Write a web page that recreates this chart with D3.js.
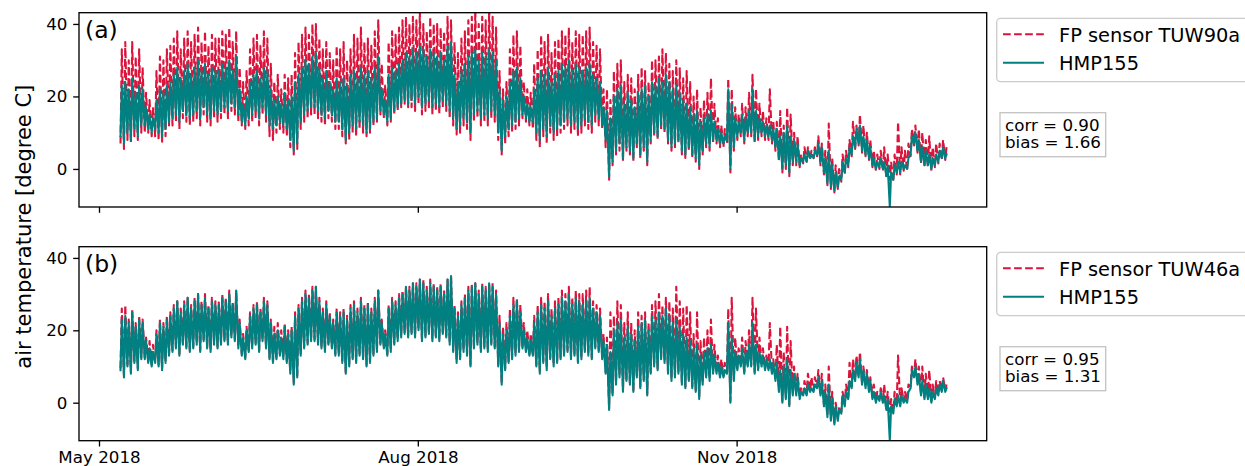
<!DOCTYPE html>
<html><head><meta charset="utf-8">
<script src="https://cdn.jsdelivr.net/npm/d3@7"></script>
<style>body{margin:0;background:#fff;} svg{display:block;font-family:"DejaVu Sans",sans-serif;}</style>
</head><body><svg id="c" width="1245" height="466"></svg>
<script>
// ---- data: daily extremes (first day 2018-05-07) ----
const startDate = "2018-05-07";
const xTickDates = ["2018-05-01", "2018-08-01", "2018-11-01"];
const yTicks = [0, 20, 40];

const hmpMax = [
23,24,22,25,21,23,22, 17,15,14,19,22,21,23, 24,26,28,25,27,29,26, 28,30,27,29,26,28,27,
27,29,28,30,27,31,22, 18,20,24,26,27,25,28, 27,22,19,20,18,21,19, 20,24,26,28,30,29,31,
32,28,25,27,24,22,25, 24,25,23,26,27,25,28, 26,27,25,28,31,22,19, 26,28,27,29,30,32,31,
33,32,34,33,31,33,32, 31,32,30,34,35,26,24, 27,29,31,32,33,30,32, 31,33,32,30,22,19,20,
24,27,28,25,20,18,17, 22,25,27,26,28,24,26, 27,29,28,30,27,29,28, 27,28,29,26,25,24,17,
16,14,20,22,23,18,21, 19,17,21,22,23,20,24, 23,25,24,26,24,22,23, 21,19,18,17,15,16,13,
14,15,16,13,11,10,9, 22,18,14,13,15,14,16, 22,16,14,13,12,12,11, 11,9,10,12,9,8,7,
3,4,5,4,5,7,6, 3,5,1,-1,-2,2,3, 6,9,11,12,9,8,6, 3,2,3,2,1,-1,1,
2,2,1,3,9,10,8, 6,5,4,3,4,5,6, 4];
const hmpMin = [
9,7,10,8,11,9,12, 12,11,10,11,10,9,11, 13,14,15,13,16,15,14, 15,16,14,17,15,14,16,
15,16,17,16,18,17,15, 13,12,14,15,16,14,17, 15,12,11,12,13,12,11, 8,5,7,13,15,16,17,
17,16,15,14,16,15,13, 13,11,8,10,12,11,13, 12,10,11,13,14,16,15, 13,14,16,17,18,19,18,
19,18,20,17,18,19,17, 18,17,19,18,16,14,11, 12,14,13,10,15,16,14, 15,14,16,15,10,5,9,
11,12,13,14,15,14,13, 13,10,8,11,9,12,10, 11,12,13,14,12,13,11, 12,14,13,12,15,14,12,
8,-2,2,5,7,3,6, 5,3,7,4,6,2,8, 10,9,12,11,8,6,7, 8,5,4,6,4,3,1,
5,7,6,8,8,7,7, 8,0,6,9,10,8,10, 10,8,9,10,9,9,8, 6,3,0,1,-1,2,2,
1,2,2,3,3,4,2, -1,-4,-5,-6,-5,-3,-1, 1,4,6,7,5,4,3, 1,0,0.5,0,-2,-10.4,-3,
-1,-1,0,0,4,7,5, 2,1,1,0,1,2,3, 3];

const tuw90aMax = [
33,35,30,35,31,33,28, 21,19,17,27,31,30,33, 34,36,38,33,36,38,35, 37,39,35,38,34,37,36,
36,38,37,39,35,38,28, 24,27,33,36,37,34,38, 36,29,24,26,22,26,25, 26,32,35,37,39,37,40,
40,36,33,35,32,30,34, 33,35,30,33,37,36,39, 35,36,34,38,41,29,23, 35,38,37,39,41,42,40,
42,41,43.5,40,38,42,40, 40,39,38,42,41,35,32, 36,38,41,42,44,40,42, 41,44,42,39,27,22,24,
33,37,38,34,24,22,21, 29,33,37,35,37,32,35, 36,38,37,39,35,38,37, 37,38,39,35,34,33,22,
22,19,27,29,30,24,26, 25,22,26,28,27,24,30, 30,31,33,32,29,27,30, 28,25,27,24,20,22,17,
19,21,25,18,14,12,11, 25,22,17,15,18,17,21, 26,22,18,16,14,22,13, 13,16,12,17,15,10,9,
4,6,6,5,6,9,7, 5,12.5,3,1,0,4,5, 8,13,12,15,12,10,8, 5,4,5,6,4,2,4,
13,6,5,7,11,12,11, 10,8,9,6,7,7,8, 6];
const tuw90aMin = [
7,5.5,8,7,9,8,10, 10,10,9,9,8,7.5,9, 12,12,13,11,14,13,12, 13,14,12,15,13,12,14,
13,14,15,14,16,15,13, 12,11,12,13,14,12,15, 13,9,8,10,11,10,9, 6,4,5.5,11,13,14,15,
15,14,13,12,14,13,11, 11,9,7,8,10,9,11, 10,9,10,12,13,15,14, 12,13,15,16,17,18,17,
17,16,18,15,16,17,15, 16,15,17,16,14,12,9.5, 10,12,11,8,13,14,12, 13,12,14,13,8,4,7,
9,10,11,12,14,13,12, 11,8,6,9,7,10,8, 9,10,11,12,10,11,9, 10,12,11,10,13,12,11,
6,-3,1,4,5,2,5, 4,2,6,3,5,1,7, 9,8,11,10,7,5,6, 7,4,3,5,3,2,0,
4,6,5,7,7,6,6, 7,-1,5,8,9,7,9, 9,7,8,9,8,8,7, 5,2,-1,0,-2,1,1,
0.5,1.5,2,2.5,3,3.5,1, -1.5,-4.5,-5.5,-6.5,-5.5,-3.5,-1.5, 0.5,3.5,5.5,6.5,4.5,3.5,2.5, 0.5,-0.5,0,-0.5,-2.5,-3,-3.5,
-1.5,-1.5,-0.5,-0.5,3.5,6.5,4.5, 1.5,0.5,0.5,-0.5,0.5,1.5,2.5, 2.5];

const tuw46aMax = [
26,27,23,26,22,24,23, 18,17,16,20,23,22,24, 25,27,28,26,28,29,27, 29,30,28,30,27,29,28,
28,30,29,31,28,31,23, 19,21,25,27,28,26,29, 28,23,21,22,20,22,20, 21,25,27,29,31,30,32,
32,29,26,28,25,23,26, 25,26,24,27,28,26,29, 27,28,26,29,31,23,20, 27,29,28,30,31,32,32,
33,33,34,34,32,34,33, 32,33,31,34,35,27,25, 28,30,32,33,33,31,33, 32,33,33,31,24,21,22,
26,29,29,27,22,20,19, 24,27,29,28,30,26,28, 29,31,30,32,29,31,30, 30,31,32,28,27,26,19,
18,25,24,28,27,22,25, 22,20,25,24,25,22,27, 28,30,27,29,28,26,32, 28,26,27,25,19,25,17,
18,20,23,16,13,12,11, 26,29,18,15,18,17,20, 29,26,18,15,13,22,12, 16,21,14,21,17,10,8,
4,6,8,7,7,9,8, 5,10,3,0,-1,3,5, 11,12,13,14,10,9,7, 5,3,4,5,3,1,3,
13,4,3,5,10,12,10, 10,8,9,5,6,6,7, 5];
const tuw46aMin = [
9.5,7.5,10.5,8.5,11.5,9.5,12.5, 12.5,11.5,10.5,11.5,10.5,9.5,11.5, 13.5,14.5,15.5,13.5,16.5,15.5,14.5, 15.5,16.5,14.5,17.5,15.5,14.5,16.5,
15.5,16.5,17.5,16.5,18.5,17.5,15.5, 13.5,12.5,14.5,15.5,16.5,14.5,17.5, 15.5,12.5,11.5,12.5,13.5,12.5,11.5, 8.5,5.5,7.5,13.5,15.5,16.5,17.5,
17.5,16.5,15.5,14.5,16.5,15.5,13.5, 13.5,11.5,8.5,10.5,12.5,11.5,13.5, 12.5,10.5,11.5,13.5,14.5,16.5,15.5, 13.5,14.5,16.5,17.5,18.5,19.5,18.5,
19.5,18.5,20.5,17.5,18.5,19.5,17.5, 18.5,17.5,19.5,18.5,16.5,14.5,11.5, 12.5,14.5,13.5,10.5,15.5,16.5,14.5, 15.5,14.5,16.5,15.5,10.5,5.5,9.5,
11.5,12.5,13.5,14.5,15.5,14.5,13.5, 13.5,10.5,8.5,11.5,9.5,12.5,10.5, 11.5,12.5,13.5,14.5,12.5,13.5,11.5, 12.5,14.5,13.5,12.5,15.5,14.5,12.5,
8.5,-1.5,2.5,5.5,7.5,3.5,6.5, 5.5,3.5,7.5,4.5,6.5,2.5,8.5, 10.5,9.5,12.5,11.5,8.5,6.5,7.5, 8.5,5.5,4.5,6.5,4.5,3.5,1.5,
5.5,7.5,6.5,8.5,8.5,7.5,7.5, 8.5,0.5,6.5,9.5,10.5,8.5,10.5, 10.5,8.5,9.5,10.5,9.5,9.5,8.5, 6.5,3.5,0.5,1.5,-0.5,2.5,2.5,
1.5,2.5,2.5,3.5,3.5,4.5,2.5, -0.5,-3.5,-4.5,-5.5,-4.5,-2.5,-0.5, 1.5,4.5,6.5,7.5,5.5,4.5,3.5, 1.5,0.5,1,0.5,-1.5,-2.5,-2.5,
-0.5,-0.5,0.5,0.5,4.5,7.5,5.5, 2.5,1.5,1.5,0.5,1.5,2.5,3.5, 3.5];

const panelLabels = ["(a)", "(b)"];
const sensorNames = ["FP sensor TUW90a", "FP sensor TUW46a"];
const refName = "HMP155";
const corrValues = ["0.90", "0.95"];
const biasValues = ["1.66", "1.31"];
const yLabel = "air temperature [degree C]";

// ---- drawing ----
const RED = "#DC143C", TEAL = "#008080";
const svg = d3.select("#c");
const left = 79, right = 986.7;
const panelBoxes = [{top: 12.7, bottom: 207}, {top: 246.7, bottom: 440.7}];
const t0 = d3.utcParse("%Y-%m-%d")(startDate);
const HOUR = 3600e3, DAY = 86400e3;

const x = d3.scaleUtc()
  .domain([Date.UTC(2018, 3, 25, 5, 30), Date.UTC(2019, 0, 12, 4, 0)])
  .range([left, right]);

function series(maxArr, minArr) {
  const pts = [];
  maxArr.forEach((mx, i) => {
    pts.push([new Date(+t0 + i * DAY + 5 * HOUR), minArr[i]]);
    pts.push([new Date(+t0 + i * DAY + 14 * HOUR), mx]);
  });
  return pts;
}
const sensorData = [series(tuw90aMax, tuw90aMin), series(tuw46aMax, tuw46aMin)];
const refData = series(hmpMax, hmpMin);
const tickDates = xTickDates.map(d => d3.utcParse("%Y-%m-%d")(d));

panelBoxes.forEach((pb, k) => {
  const y = d3.scaleLinear().domain([-10.5, 43.1]).range([pb.bottom, pb.top]);
  const g = svg.append("g");
  const cid = "clip" + k;
  svg.append("clipPath").attr("id", cid).append("rect")
    .attr("x", left).attr("y", pb.top).attr("width", right - left).attr("height", pb.bottom - pb.top);

  const line = d3.line().x(d => x(d[0])).y(d => y(d[1]));
  const plot = g.append("g").attr("clip-path", `url(#${cid})`);
  plot.append("path").datum(sensorData[k]).attr("d", line)
    .attr("fill", "none").attr("stroke", RED).attr("stroke-width", 2.1)
    .attr("stroke-dasharray", "7.7,3.35").attr("stroke-linejoin", "round");
  plot.append("path").datum(refData).attr("d", line)
    .attr("fill", "none").attr("stroke", TEAL).attr("stroke-width", 2.1)
    .attr("stroke-linejoin", "round").attr("stroke-linecap", "square");

  // axes
  const ya = g.append("g").attr("transform", `translate(${left},0)`)
    .call(d3.axisLeft(y).tickValues(yTicks).tickSize(5.8).tickPadding(5.8).tickFormat(d3.format("d")));
  const xa = g.append("g").attr("transform", `translate(0,${pb.bottom})`)
    .call(d3.axisBottom(x).tickValues(tickDates).tickSize(5.8).tickPadding(4.5)
      .tickFormat(k === 1 ? d3.utcFormat("%b %Y") : () => ""));
  [ya, xa].forEach(a => {
    a.select(".domain").remove();
    a.selectAll("line").attr("stroke", "#000").attr("stroke-width", 1.33);
    a.selectAll("text").attr("fill", "#000").attr("font-size", "16.7px")
      .attr("font-family", "DejaVu Sans, sans-serif");
  });
  xa.selectAll("text").attr("dy", "0.71em");

  g.append("rect").attr("x", left).attr("y", pb.top).attr("width", right - left)
    .attr("height", pb.bottom - pb.top).attr("fill", "none")
    .attr("stroke", "#000").attr("stroke-width", 1.33);

  // panel label
  g.append("text").attr("x", 85).attr("y", pb.top + 25.5).attr("font-size", "23.5px")
    .text(panelLabels[k]);

  // legend
  const off = pb.top - 12.7;
  const lg = g.append("g");
  lg.append("rect").attr("x", 996.7).attr("y", 18.3 + off).attr("width", 300).attr("height", 63.4)
    .attr("rx", 4).attr("fill", "#fff").attr("fill-opacity", 0.8)
    .attr("stroke", "#cccccc").attr("stroke-width", 1.33);
  lg.append("line").attr("x1", 1003).attr("x2", 1044).attr("y1", 34.3 + off).attr("y2", 34.3 + off)
    .attr("stroke", RED).attr("stroke-width", 2.1).attr("stroke-dasharray", "7.7,3.35");
  lg.append("line").attr("x1", 1003).attr("x2", 1044).attr("y1", 62.7 + off).attr("y2", 62.7 + off)
    .attr("stroke", TEAL).attr("stroke-width", 2.1);
  lg.append("text").attr("x", 1059).attr("y", 41.7 + off).attr("font-size", "19.4px").text(sensorNames[k]);
  lg.append("text").attr("x", 1059).attr("y", 70 + off).attr("font-size", "19.4px").text(refName);

  // stats box
  g.append("rect").attr("x", 1000).attr("y", 112.7 + off).attr("width", 105.7).attr("height", 44)
    .attr("fill", "#fff").attr("stroke", "#c4c4c4").attr("stroke-width", 1.33);
  g.append("text").attr("x", 1005).attr("y", 130.7 + off).attr("font-size", "16.7px")
    .text(`corr = ${corrValues[k]}`);
  g.append("text").attr("x", 1005).attr("y", 148.3 + off).attr("font-size", "16.7px")
    .text(`bias = ${biasValues[k]}`);
});

svg.append("text").attr("transform", "translate(31,226.7) rotate(-90)")
  .attr("text-anchor", "middle").attr("font-size", "21px").text(yLabel);
</script>
</body></html>
